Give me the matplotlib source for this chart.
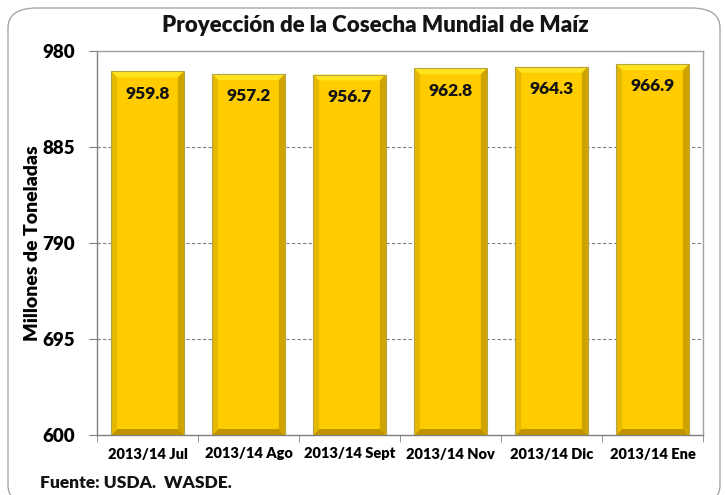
import matplotlib
matplotlib.use("Agg")
import matplotlib.pyplot as plt
from matplotlib.patches import FancyBboxPatch, Polygon
import numpy as np

categories = ["2013/14 Jul", "2013/14 Ago", "2013/14 Sept", "2013/14 Nov", "2013/14 Dic", "2013/14 Ene"]
values = [959.8, 957.2, 956.7, 962.8, 964.3, 966.9]
yticks = [600, 695, 790, 885, 980]

plt.rcParams['font.family'] = ['Lato', 'DejaVu Sans']
FW = 'heavy'

fig = plt.figure(figsize=(7.25, 4.95), dpi=100)
W, H = 725, 495
ax = fig.add_axes([97 / W, 1 - 435 / H, (703 - 97) / W, (435 - 51) / H])

# Outer rounded border
border = FancyBboxPatch((8 / W, -0.02), (712 / W), 1 - 8 / H + 0.02,
                        boxstyle="round,pad=0,rounding_size=0.04",
                        transform=fig.transFigure, facecolor='white',
                        edgecolor='#A6A6A6', linewidth=1.0, zorder=-10)
fig.patches.append(border)

x = np.arange(len(categories))
bw = 0.72
bars = ax.bar(x, values, width=bw, bottom=0, color='#FFCC00', edgecolor='none',
              linewidth=0, zorder=3)
ax.set_ylim(600, 980)
ax.set_xlim(-0.5, len(categories) - 0.5)

# bevel effect
fig.canvas.draw()
inv = ax.transData.inverted()
bevel = 6  # px
for b in bars:
    x0, y0 = b.get_x(), 600
    x1, y1 = b.get_x() + b.get_width(), b.get_height()
    (px0, py0) = ax.transData.transform((x0, y0))
    (px1, py1) = ax.transData.transform((x1, y1))
    outer = [(px0, py1), (px1, py1), (px1, py0), (px0, py0)]
    inner = [(px0 + bevel, py1 - bevel), (px1 - bevel, py1 - bevel),
             (px1 - bevel, py0 + bevel), (px0 + bevel, py0 + bevel)]
    faces = [
        ([outer[0], outer[1], inner[1], inner[0]], '#FFE31F'),  # top
        ([outer[1], outer[2], inner[2], inner[1]], '#CFA300'),  # right
        ([outer[3], outer[2], inner[2], inner[3]], '#BF9400'),  # bottom
        ([outer[0], inner[0], inner[3], outer[3]], '#E6B900'),  # left
    ]
    for pts, col in faces:
        dpts = [inv.transform(p) for p in pts]
        ax.add_patch(Polygon(dpts, closed=True, facecolor=col, edgecolor='none', zorder=3.5))
    ax.add_patch(Polygon([inv.transform(p) for p in outer], closed=True, facecolor='none',
                         edgecolor='#B5A445', linewidth=0.8, zorder=3.6))

for xi, v in zip(x, values):
    ax.annotate(f"{v:.1f}", xy=(xi, v), xytext=(0, -16), textcoords='offset points',
                ha='center', va='center', fontsize=12.5, fontweight=FW, color='#141414', zorder=5)

ax.set_yticks(yticks)
ax.set_yticklabels([str(t) for t in yticks], fontsize=13.5, fontweight=FW)
ax.set_xticks(x)
ax.set_xticklabels(categories, fontsize=10.5, fontweight=FW)
ax.tick_params(axis='x', length=0, pad=9)
ax.set_xticks(np.arange(-0.5, len(categories)), minor=True)
ax.tick_params(axis='x', which='minor', length=5, color='#808080')
ax.tick_params(axis='y', length=6, color='#808080', pad=10)
for g in yticks[1:-1]:
    ax.axhline(g, color='#808080', linestyle=(0, (3, 2)), linewidth=0.8, zorder=1)
for s in ax.spines.values():
    s.set_color('#A0A0A0')
    s.set_linewidth(1.0)
ax.spines['left'].set_color('#808080')
ax.spines['bottom'].set_color('#808080')

ax.set_ylabel("Millones de Toneladas", fontsize=14, fontweight=FW, labelpad=1)
fig.text(375 / W, 1 - 26 / H, "Proyección de la Cosecha Mundial de Maíz",
         ha='center', va='center', fontsize=16, fontweight=FW, color='#141414')
fig.text(40 / W, 1 - 483 / H, "Fuente: USDA.  WASDE.", ha='left', va='center',
         fontsize=12.5, fontweight=FW, color='#141414')

fig.savefig("out.png", dpi=100)
